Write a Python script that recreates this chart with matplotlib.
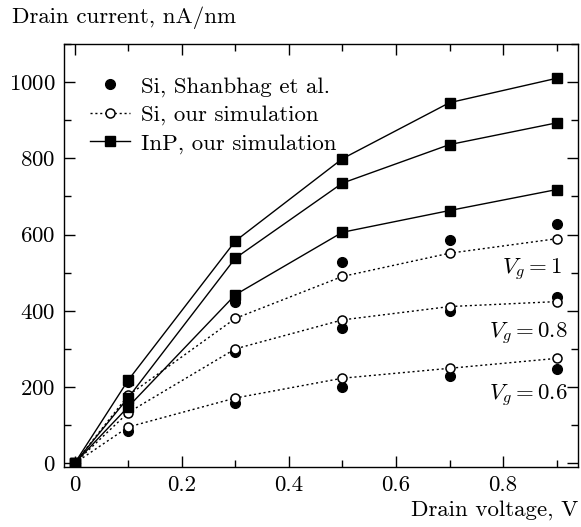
import matplotlib
matplotlib.use("Agg")
import matplotlib.pyplot as plt
from matplotlib.ticker import MultipleLocator

plt.rcParams['font.family'] = ['cmr10', 'DejaVu Serif']
plt.rcParams['mathtext.fontset'] = 'cm'
plt.rcParams['axes.formatter.use_mathtext'] = True
plt.rcParams['font.size'] = 16.5

vd = [0.0, 0.1, 0.3, 0.5, 0.7, 0.9]

# Si, Shanbhag et al. (filled circles)
shan_vg1 = [0, 212, 424, 528, 586, 628]
shan_vg08 = [0, 152, 293, 356, 400, 436]
shan_vg06 = [0, 84, 157, 199, 230, 246]

# Si, our simulation (open circles, dotted)
sim_vg1 = [0, 178, 380, 490, 551, 589]
sim_vg08 = [0, 133, 300, 376, 411, 424]
sim_vg06 = [0, 95, 171, 223, 249, 275]

# InP, our simulation (squares, solid)
inp_vg1 = [0, 218, 583, 799, 946, 1010]
inp_vg08 = [0, 172, 538, 735, 836, 893]
inp_vg06 = [0, 148, 442, 606, 663, 718]

vg_labels = ['$V_g = 1$', '$V_g = 0.8$', '$V_g = 0.6$']

fig = plt.figure(figsize=(5.81, 5.27), dpi=100)
ax = fig.add_axes([64/581, 60/527, 514/581, 423/527])

for ys in (shan_vg1, shan_vg08, shan_vg06):
    ax.plot(vd, ys, linestyle='none', marker='o', color='black', markersize=7, zorder=3)
for ys in (sim_vg1, sim_vg08, sim_vg06):
    ax.plot(vd, ys, linestyle=(0, (1.5, 2.0)), color='black', lw=1.0, marker='o',
            markerfacecolor='white', markeredgecolor='black', markersize=6.5,
            markeredgewidth=1.1, zorder=4)
for ys in (inp_vg1, inp_vg08, inp_vg06):
    ax.plot(vd, ys, linestyle='-', color='black', lw=1.0, marker='s',
            markersize=6.5, zorder=5)

# legend handles
h1, = ax.plot([], [], linestyle='none', marker='o', color='black', markersize=7)
h2, = ax.plot([], [], linestyle=(0, (1.5, 2.0)), color='black', lw=1.0, marker='o',
              markerfacecolor='white', markeredgecolor='black', markersize=6.5,
              markeredgewidth=1.1)
h3, = ax.plot([], [], linestyle='-', color='black', lw=1.0, marker='s', markersize=6.5)
ax.legend([h1, h2, h3], ['Si, Shanbhag et al.', 'Si, our simulation', 'InP, our simulation'],
          loc='upper left', bbox_to_anchor=(0.02, 0.962), frameon=False,
          handlelength=1.75, handletextpad=0.45, labelspacing=0.36, borderaxespad=0.3)

ax.set_xlim(-0.02, 0.94)
ax.set_ylim(-10, 1100)
ax.xaxis.set_major_locator(MultipleLocator(0.2))
ax.xaxis.set_minor_locator(MultipleLocator(0.1))
ax.yaxis.set_major_locator(MultipleLocator(200))
ax.yaxis.set_minor_locator(MultipleLocator(100))
ax.set_xticks([0, 0.2, 0.4, 0.6, 0.8])
ax.set_xticklabels(['0', '0.2', '0.4', '0.6', '0.8'])
ax.tick_params(which='both', direction='in', top=True, right=True, width=1.0)
ax.tick_params(which='major', length=8, pad=6)
ax.tick_params(which='minor', length=5)
for s in ax.spines.values():
    s.set_linewidth(1.0)

ax.text(0.910, 495, vg_labels[0], ha='right', va='baseline')
ax.text(0.920, 329, vg_labels[1], ha='right', va='baseline')
ax.text(0.920, 166, vg_labels[2], ha='right', va='baseline')

fig.text(12/581, 1 - 18/527, 'Drain current, nA/nm', ha='left', va='center')
fig.text(578/581, 1 - 510/527, 'Drain voltage, V', ha='right', va='center')

fig.savefig('out.png', dpi=100)
